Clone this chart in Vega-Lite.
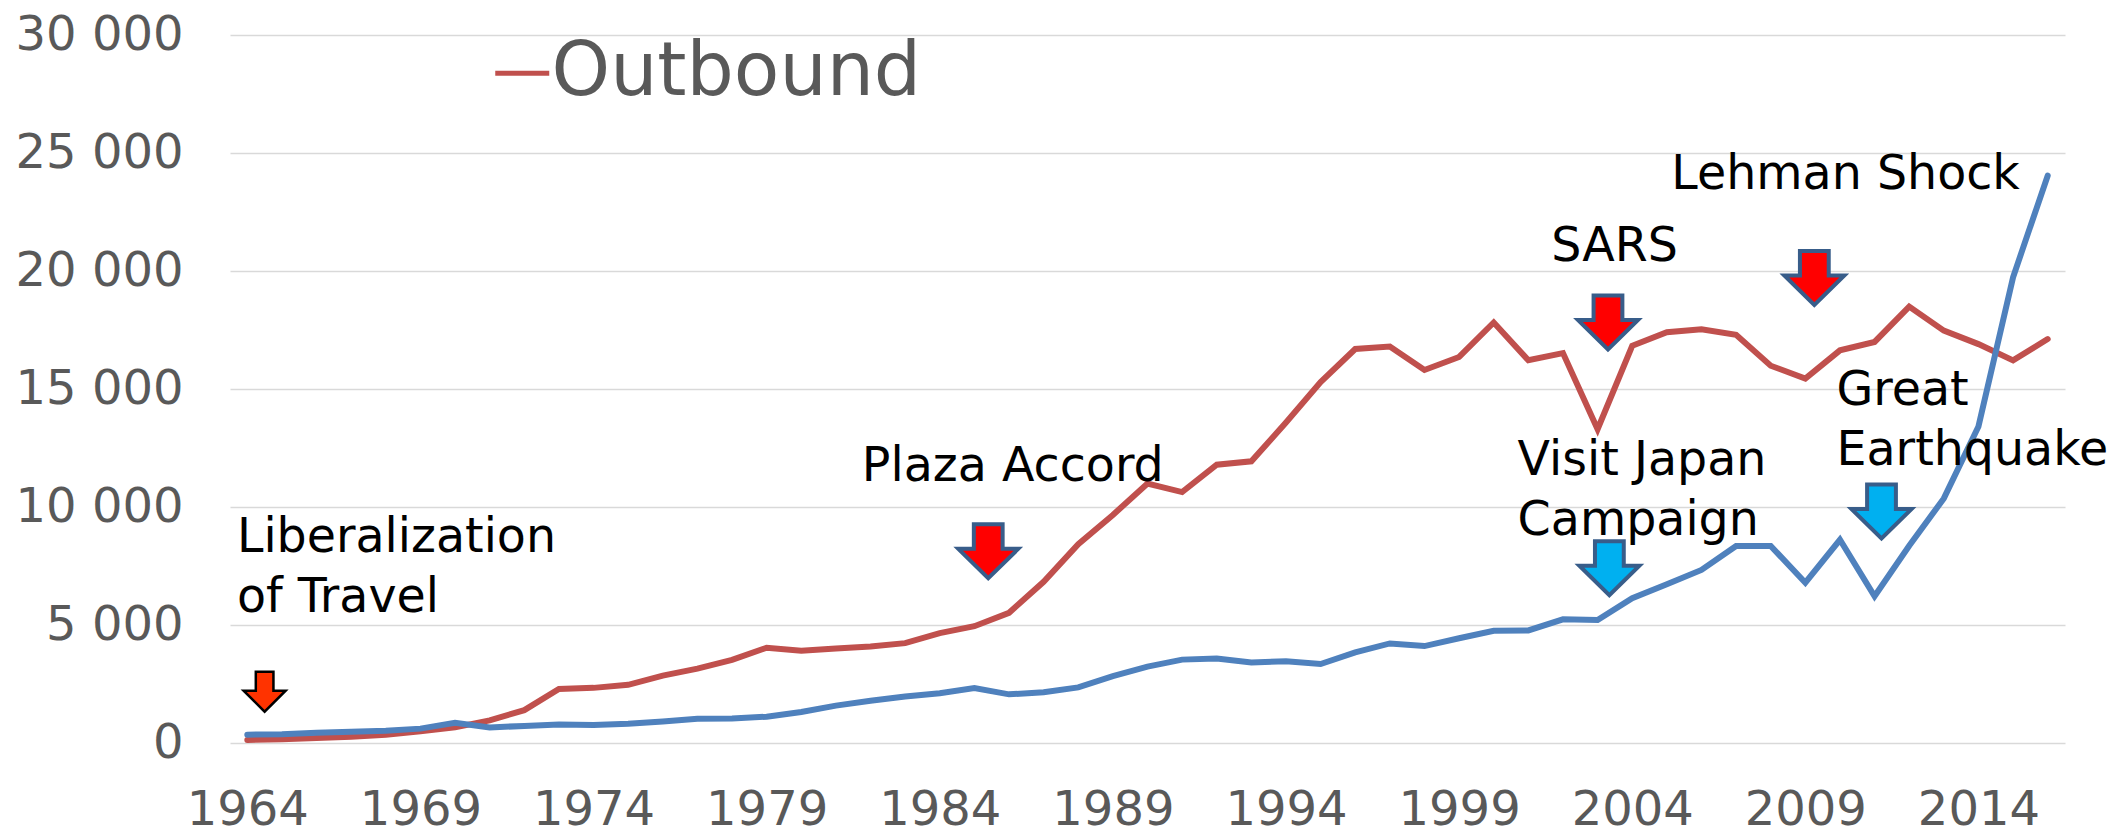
{"$schema":"https://vega.github.io/schema/vega-lite/v6.json","width":1835,"height":708,"autosize":"none","padding":{"left":230,"top":35,"right":52,"bottom":85},"background":"white","config":{"view":{"stroke":null},"font":"DejaVu Sans"},"datasets":{"series":[
{"year":1964,"s":"Outbound","v":128},{"year":1965,"s":"Outbound","v":159},{"year":1966,"s":"Outbound","v":212},{"year":1967,"s":"Outbound","v":268},{"year":1968,"s":"Outbound","v":344},{"year":1969,"s":"Outbound","v":493},{"year":1970,"s":"Outbound","v":663},{"year":1971,"s":"Outbound","v":961},{"year":1972,"s":"Outbound","v":1392},{"year":1973,"s":"Outbound","v":2289},{"year":1974,"s":"Outbound","v":2336},{"year":1975,"s":"Outbound","v":2466},{"year":1976,"s":"Outbound","v":2853},{"year":1977,"s":"Outbound","v":3151},{"year":1978,"s":"Outbound","v":3525},{"year":1979,"s":"Outbound","v":4038},{"year":1980,"s":"Outbound","v":3909},{"year":1981,"s":"Outbound","v":4007},{"year":1982,"s":"Outbound","v":4086},{"year":1983,"s":"Outbound","v":4232},{"year":1984,"s":"Outbound","v":4659},{"year":1985,"s":"Outbound","v":4948},{"year":1986,"s":"Outbound","v":5516},{"year":1987,"s":"Outbound","v":6829},{"year":1988,"s":"Outbound","v":8427},{"year":1989,"s":"Outbound","v":9663},{"year":1990,"s":"Outbound","v":10997},{"year":1991,"s":"Outbound","v":10634},{"year":1992,"s":"Outbound","v":11791},{"year":1993,"s":"Outbound","v":11934},{"year":1994,"s":"Outbound","v":13579},{"year":1995,"s":"Outbound","v":15298},{"year":1996,"s":"Outbound","v":16695},{"year":1997,"s":"Outbound","v":16803},{"year":1998,"s":"Outbound","v":15806},{"year":1999,"s":"Outbound","v":16358},{"year":2000,"s":"Outbound","v":17819},{"year":2001,"s":"Outbound","v":16216},{"year":2002,"s":"Outbound","v":16523},{"year":2003,"s":"Outbound","v":13296},{"year":2004,"s":"Outbound","v":16831},{"year":2005,"s":"Outbound","v":17404},{"year":2006,"s":"Outbound","v":17535},{"year":2007,"s":"Outbound","v":17295},{"year":2008,"s":"Outbound","v":15987},{"year":2009,"s":"Outbound","v":15446},{"year":2010,"s":"Outbound","v":16637},{"year":2011,"s":"Outbound","v":16994},{"year":2012,"s":"Outbound","v":18491},{"year":2013,"s":"Outbound","v":17473},{"year":2014,"s":"Outbound","v":16903},{"year":2015,"s":"Outbound","v":16214},{"year":2016,"s":"Outbound","v":17116},
{"year":1964,"s":"Inbound","v":353},{"year":1965,"s":"Inbound","v":367},{"year":1966,"s":"Inbound","v":433},{"year":1967,"s":"Inbound","v":477},{"year":1968,"s":"Inbound","v":519},{"year":1969,"s":"Inbound","v":609},{"year":1970,"s":"Inbound","v":854},{"year":1971,"s":"Inbound","v":660},{"year":1972,"s":"Inbound","v":724},{"year":1973,"s":"Inbound","v":785},{"year":1974,"s":"Inbound","v":764},{"year":1975,"s":"Inbound","v":812},{"year":1976,"s":"Inbound","v":915},{"year":1977,"s":"Inbound","v":1028},{"year":1978,"s":"Inbound","v":1039},{"year":1979,"s":"Inbound","v":1113},{"year":1980,"s":"Inbound","v":1317},{"year":1981,"s":"Inbound","v":1583},{"year":1982,"s":"Inbound","v":1793},{"year":1983,"s":"Inbound","v":1968},{"year":1984,"s":"Inbound","v":2110},{"year":1985,"s":"Inbound","v":2327},{"year":1986,"s":"Inbound","v":2062},{"year":1987,"s":"Inbound","v":2155},{"year":1988,"s":"Inbound","v":2355},{"year":1989,"s":"Inbound","v":2835},{"year":1990,"s":"Inbound","v":3236},{"year":1991,"s":"Inbound","v":3533},{"year":1992,"s":"Inbound","v":3582},{"year":1993,"s":"Inbound","v":3410},{"year":1994,"s":"Inbound","v":3468},{"year":1995,"s":"Inbound","v":3345},{"year":1996,"s":"Inbound","v":3837},{"year":1997,"s":"Inbound","v":4218},{"year":1998,"s":"Inbound","v":4106},{"year":1999,"s":"Inbound","v":4438},{"year":2000,"s":"Inbound","v":4757},{"year":2001,"s":"Inbound","v":4772},{"year":2002,"s":"Inbound","v":5239},{"year":2003,"s":"Inbound","v":5212},{"year":2004,"s":"Inbound","v":6138},{"year":2005,"s":"Inbound","v":6728},{"year":2006,"s":"Inbound","v":7334},{"year":2007,"s":"Inbound","v":8347},{"year":2008,"s":"Inbound","v":8351},{"year":2009,"s":"Inbound","v":6790},{"year":2010,"s":"Inbound","v":8611},{"year":2011,"s":"Inbound","v":6219},{"year":2012,"s":"Inbound","v":8358},{"year":2013,"s":"Inbound","v":10364},{"year":2014,"s":"Inbound","v":13413},{"year":2015,"s":"Inbound","v":19737},{"year":2016,"s":"Inbound","v":24039}],
"arrows":[{"event":"Liberalization of Travel","year":1964.5,"v":2174,"kind":"first"},{"event":"Plaza Accord","year":1985.4,"v":8124,"kind":"outbound"},{"event":"SARS","year":2003.3,"v":17820,"kind":"outbound"},{"event":"Lehman Shock","year":2009.26,"v":19708,"kind":"outbound"},{"event":"Visit Japan Campaign","year":2003.34,"v":7408,"kind":"inbound"},{"event":"Great Earthquake","year":2011.2,"v":9811,"kind":"inbound"}],
"labels":[{"t":"Liberalization","year":1963.7,"v":8753},{"t":"of Travel","year":1963.7,"v":6236},{"t":"Plaza Accord","year":1981.75,"v":11785},{"t":"SARS","year":2001.66,"v":21110},{"t":"Lehman Shock","year":2005.13,"v":24142},{"t":"Visit Japan","year":2000.69,"v":12014},{"t":"Campaign","year":2000.69,"v":9497},{"t":"Great","year":2009.9,"v":14989},{"t":"Earthquake","year":2009.9,"v":12471}]},
"encoding":{"x":{"field":"year","type":"quantitative","scale":{"domain":[1963.5,2016.5],"nice":false,"zero":false},"axis":{"values":[1964,1969,1974,1979,1984,1989,1994,1999,2004,2009,2014],"format":"d","title":null,"grid":false,"domain":false,"ticks":false,"labelFontSize":48,"labelColor":"#595959","labelPadding":43,"labelFont":"DejaVu Sans","labelFlush":false,"labelOverlap":false}},"y":{"field":"v","type":"quantitative","scale":{"domain":[0,30000],"nice":false},"axis":{"values":[0,5000,10000,15000,20000,25000,30000],"labelExpr":"replace(format(datum.value, ','), ',', ' ')","title":null,"grid":true,"gridColor":"#D9D9D9","gridWidth":1.5,"domain":false,"ticks":false,"labelFontSize":48,"labelColor":"#595959","labelPadding":47,"labelFont":"DejaVu Sans","labelOverlap":false}}},
"layer":[
{"data":{"name":"series"},"mark":{"type":"line","strokeWidth":6,"strokeCap":"round","strokeJoin":"miter","clip":false},"encoding":{"color":{"field":"s","type":"nominal","scale":{"domain":["Outbound","Inbound"],"range":["#C0504D","#4F81BD"]},"legend":{"values":["Outbound"],"orient":"none","legendX":255,"legendY":1,"title":null,"symbolType":"stroke","symbolSize":2916,"symbolStrokeWidth":5,"labelFontSize":74.5,"labelColor":"#595959","labelFont":"DejaVu Sans","labelOffset":-8,"labelLimit":800,"rowPadding":0}}}},
{"data":{"name":"arrows"},"transform":[{"filter":"datum.kind === 'first'"}],"mark":{"type":"point","filled":true,"fill":"#FF3300","stroke":"#000000","strokeWidth":2.5,"opacity":1,"size":1764,"shape":"M-0.42,-0.95L0.42,-0.95L0.42,-0.05L1,-0.05L0,0.95L-1,-0.05L-0.42,-0.05Z"}},
{"data":{"name":"arrows"},"transform":[{"filter":"datum.kind !== 'first'"}],"mark":{"type":"point","filled":true,"stroke":"#385D8A","strokeWidth":4,"opacity":1,"size":3600,"shape":"M-0.48,-0.9L0.48,-0.9L0.48,-0.08L1,-0.08L0,0.9L-1,-0.08L-0.48,-0.08Z"},"encoding":{"fill":{"field":"kind","type":"nominal","scale":{"domain":["outbound","inbound"],"range":["#FF0000","#00B0F0"]},"legend":null}}},
{"data":{"name":"labels"},"mark":{"type":"text","align":"left","baseline":"middle","fontSize":47.5,"dy":2,"font":"DejaVu Sans","color":"#000000"},"encoding":{"text":{"field":"t","type":"nominal"}}}
]}
